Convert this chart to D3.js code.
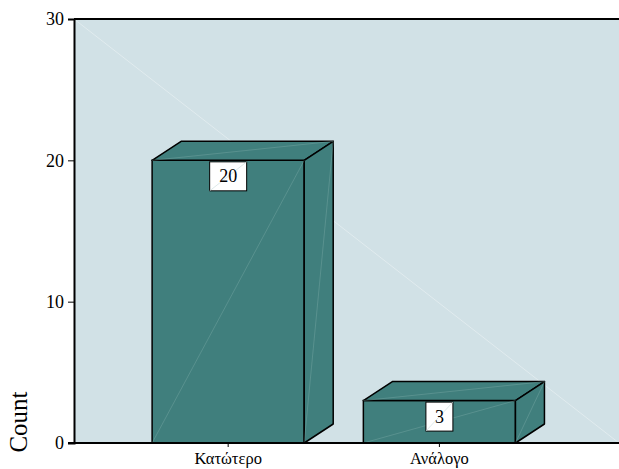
<!DOCTYPE html>
<html>
<head>
<meta charset="utf-8">
<script src="https://cdn.jsdelivr.net/npm/d3@7"></script>
<style>
  body { margin: 0; background: #fff; }
  svg, svg text { font-family: "Liberation Serif", "Times New Roman", "DejaVu Serif", serif !important; }
</style>
</head>
<body>
<div id="chart"></div>
<script>
// data
const categories = ["Κατώτερο", "Ανάλογο"];
const counts = [20, 3];
const yTicks = [0, 10, 20, 30];

function drawChart() {
  const width = 619;
  const height = 469;
  const left = 74, right = 619, top = 19, bottom = 443;
  const depthX = 29, depthY = -19; // 3d offset

  const svg = d3
    .select("#chart")
    .append("svg")
    .attr("width", width)
    .attr("height", height);

  const x = d3
    .scaleBand()
    .domain(categories)
    .range([left, right])
    .paddingInner(0.28)
    .paddingOuter(0.43)
    .align(0.43);

  const y = d3.scaleLinear().domain([0, 30]).range([bottom, top]);

  // plot background
  svg.append("rect")
    .attr("x", left)
    .attr("y", top)
    .attr("width", right - left)
    .attr("height", bottom - top)
    .attr("fill", "#d1e1e6");

  // faint diagonal across the background
  svg.append("line")
    .attr("x1", left).attr("y1", top)
    .attr("x2", right).attr("y2", bottom)
    .attr("stroke", "#ffffff")
    .attr("stroke-opacity", 0.35)
    .attr("stroke-width", 1);

  // bars
  const g = svg.append("g");
  const bars = g.selectAll("g.bar")
    .data(categories.map((c, i) => ({ cat: c, value: counts[i] })))
    .join("g")
    .attr("class", "bar");

  const fill = "#407f7d";

  bars.each(function (d) {
    const b = d3.select(this);
    const x0 = x(d.cat);
    const x1 = x0 + x.bandwidth();
    const y0 = y(0);
    const y1 = y(d.value);

    // front face
    b.append("polygon")
      .attr("points", [[x0, y0], [x1, y0], [x1, y1], [x0, y1]].join(" "))
      .attr("fill", fill)
      .attr("stroke", "#000")
      .attr("stroke-width", 1.5);
    // top face
    b.append("polygon")
      .attr("points", [[x0, y1], [x1, y1], [x1 + depthX, y1 + depthY], [x0 + depthX, y1 + depthY]].join(" "))
      .attr("fill", fill)
      .attr("stroke", "#000")
      .attr("stroke-width", 1.5)
      .attr("stroke-linejoin", "round");
    // side face
    b.append("polygon")
      .attr("points", [[x1, y0], [x1 + depthX, y0 + depthY], [x1 + depthX, y1 + depthY], [x1, y1]].join(" "))
      .attr("fill", fill)
      .attr("stroke", "#000")
      .attr("stroke-width", 1.5)
      .attr("stroke-linejoin", "round");

    // faint diagonals on faces
    const diag = [
      [[x0, y0], [x1, y1]],
      [[x0, y1], [x1 + depthX, y1 + depthY]],
      [[x1, y0], [x1 + depthX, y1 + depthY]]
    ];
    diag.forEach((p) => {
      b.append("line")
        .attr("x1", p[0][0]).attr("y1", p[0][1])
        .attr("x2", p[1][0]).attr("y2", p[1][1])
        .attr("stroke", "#8fb8b6")
        .attr("stroke-opacity", 0.45)
        .attr("stroke-width", 0.7);
    });

    // value label box
    const cx = x0 + x.bandwidth() / 2;
    const boxW = d.value >= 10 ? 37 : 27;
    const boxH = 29;
    b.append("rect")
      .attr("x", cx - boxW / 2)
      .attr("y", y1 + 1.5)
      .attr("width", boxW)
      .attr("height", boxH)
      .attr("fill", "#fff")
      .attr("stroke", "#000")
      .attr("stroke-width", 1);
    b.append("line")
      .attr("x1", cx - boxW / 2).attr("y1", y1 + 1.5 + boxH)
      .attr("x2", cx + boxW / 2).attr("y2", y1 + 1.5)
      .attr("stroke", "#cfe0e0")
      .attr("stroke-width", 0.7);
    b.append("text")
      .attr("x", cx)
      .attr("y", y1 + 1.5 + boxH / 2 + 6)
      .attr("text-anchor", "middle")
      .attr("font-size", "18px")
      .attr("fill", "#000")
      .text(d.value);
  });

  // top border
  svg.append("line")
    .attr("x1", left).attr("y1", top)
    .attr("x2", right).attr("y2", top)
    .attr("stroke", "#000")
    .attr("stroke-width", 2);

  // y axis
  const yAxis = svg.append("g")
    .attr("transform", `translate(${left},0)`)
    .call(d3.axisLeft(y).tickValues(yTicks).tickSize(6).tickPadding(4));
  yAxis.select(".domain").attr("stroke-width", 2);
  yAxis.selectAll("text")
    .attr("font-size", "18px")
    .attr("fill", "#000");

  // x axis
  const xAxis = svg.append("g")
    .attr("transform", `translate(0,${bottom})`)
    .call(d3.axisBottom(x).tickSize(4).tickPadding(5).tickSizeOuter(0));
  xAxis.select(".domain").attr("stroke-width", 2).attr("d", `M${left - 6},0H${right}`);
  xAxis.selectAll("text")
    .attr("font-size", "16.5px")
    .attr("fill", "#000");

  // y title
  svg.append("text")
    .attr("transform", "translate(27,422) rotate(-90)")
    .attr("text-anchor", "middle")
    .attr("font-size", "25px")
    .attr("fill", "#000")
    .text("Count");
}

drawChart();
</script>
</body>
</html>
